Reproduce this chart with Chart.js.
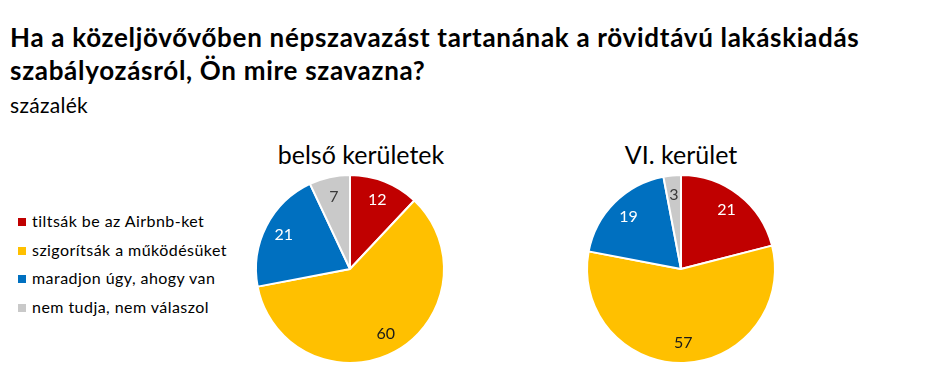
<!DOCTYPE html>
<html>
<head>
<meta charset="utf-8">
<script src="https://cdn.jsdelivr.net/npm/chart.js@4/dist/chart.umd.min.js"></script>
<style>
  body { margin: 0; background: #fff; width: 946px; height: 379px; overflow: hidden; position: relative; font-family: Lato, "Open Sans", sans-serif; color: #000; }
  #title { position: absolute; left: 10px; top: 21px; font-size: 26px; font-weight: bold; line-height: 33px; letter-spacing: 0.7px; }
  #unit { position: absolute; left: 10px; top: 92px; font-size: 21px; letter-spacing: 0.3px; }
  .ptitle { position: absolute; top: 139px; width: 240px; text-align: center; font-size: 25px; }
  .pie { position: absolute; width: 200px; height: 200px; }
  #legend { position: absolute; left: 18px; top: 207px; font-size: 16px; letter-spacing: 0.45px; }
  #legend div { height: 28.5px; line-height: 28.5px; white-space: nowrap; }
  #legend span { display: inline-block; width: 8px; height: 8px; margin-right: 6px; vertical-align: 1px; }
</style>
</head>
<body>
<div id="title">Ha a közeljövővőben népszavazást tartanának a rövidtávú lakáskiadás<br>szabályozásról, Ön mire szavazna?</div>
<div id="unit">százalék</div>
<div id="legend"></div>
<div class="ptitle" style="left:241px">belső kerületek</div>
<div class="ptitle" style="left:561px">VI. kerület</div>
<div class="pie" style="left:250px; top:169px"><canvas id="pie1" width="200" height="200"></canvas></div>
<div class="pie" style="left:581px; top:169px"><canvas id="pie2" width="200" height="200"></canvas></div>
<script>
const categories = ["tiltsák be az Airbnb-ket", "szigorítsák a működésüket", "maradjon úgy, ahogy van", "nem tudja, nem válaszol"];
const belsoValues = [12, 60, 21, 7];
const viValues = [21, 57, 19, 3];
const colors = ["#C00000", "#FFC000", "#0070C0", "#C9C9C9"];
const labelColors = ["#ffffff", "#1a1a1a", "#ffffff", "#3a3a3a"];

let legend = document.getElementById("legend");
categories.forEach((c, i) => {
  let row = document.createElement("div");
  row.innerHTML = '<span style="background:' + colors[i] + '"></span>' + c;
  legend.appendChild(row);
});

// value labels inside the slices
const sliceLabels = {
  id: "sliceLabels",
  afterDatasetsDraw(chart) {
    let ctx = chart.ctx;
    let meta = chart.getDatasetMeta(0);
    let values = chart.data.datasets[0].data;
    ctx.save();
    ctx.font = "16px Lato, sans-serif";
    ctx.textAlign = "center";
    ctx.textBaseline = "middle";
    meta.data.forEach((arc, i) => {
      let p = arc.getProps(["x", "y", "startAngle", "endAngle", "outerRadius"], true);
      let mid = (p.startAngle + p.endAngle) / 2;
      let r = p.outerRadius * 0.79;
      ctx.fillStyle = labelColors[i];
      ctx.fillText(values[i], p.x + Math.cos(mid) * r, p.y + Math.sin(mid) * r);
    });
    ctx.restore();
  }
};

function makePie(id, values) {
  new Chart(document.getElementById(id), {
    type: "pie",
    data: {
      labels: categories,
      datasets: [{
        data: values,
        backgroundColor: colors,
        borderColor: "#ffffff",
        borderWidth: 2
      }]
    },
    options: {
      responsive: false,
      animation: false,
      layout: { padding: 5 },
      plugins: {
        legend: { display: false },
        tooltip: { enabled: false }
      }
    },
    plugins: [sliceLabels]
  });
}

makePie("pie1", belsoValues);
makePie("pie2", viValues);
</script>
</body>
</html>
